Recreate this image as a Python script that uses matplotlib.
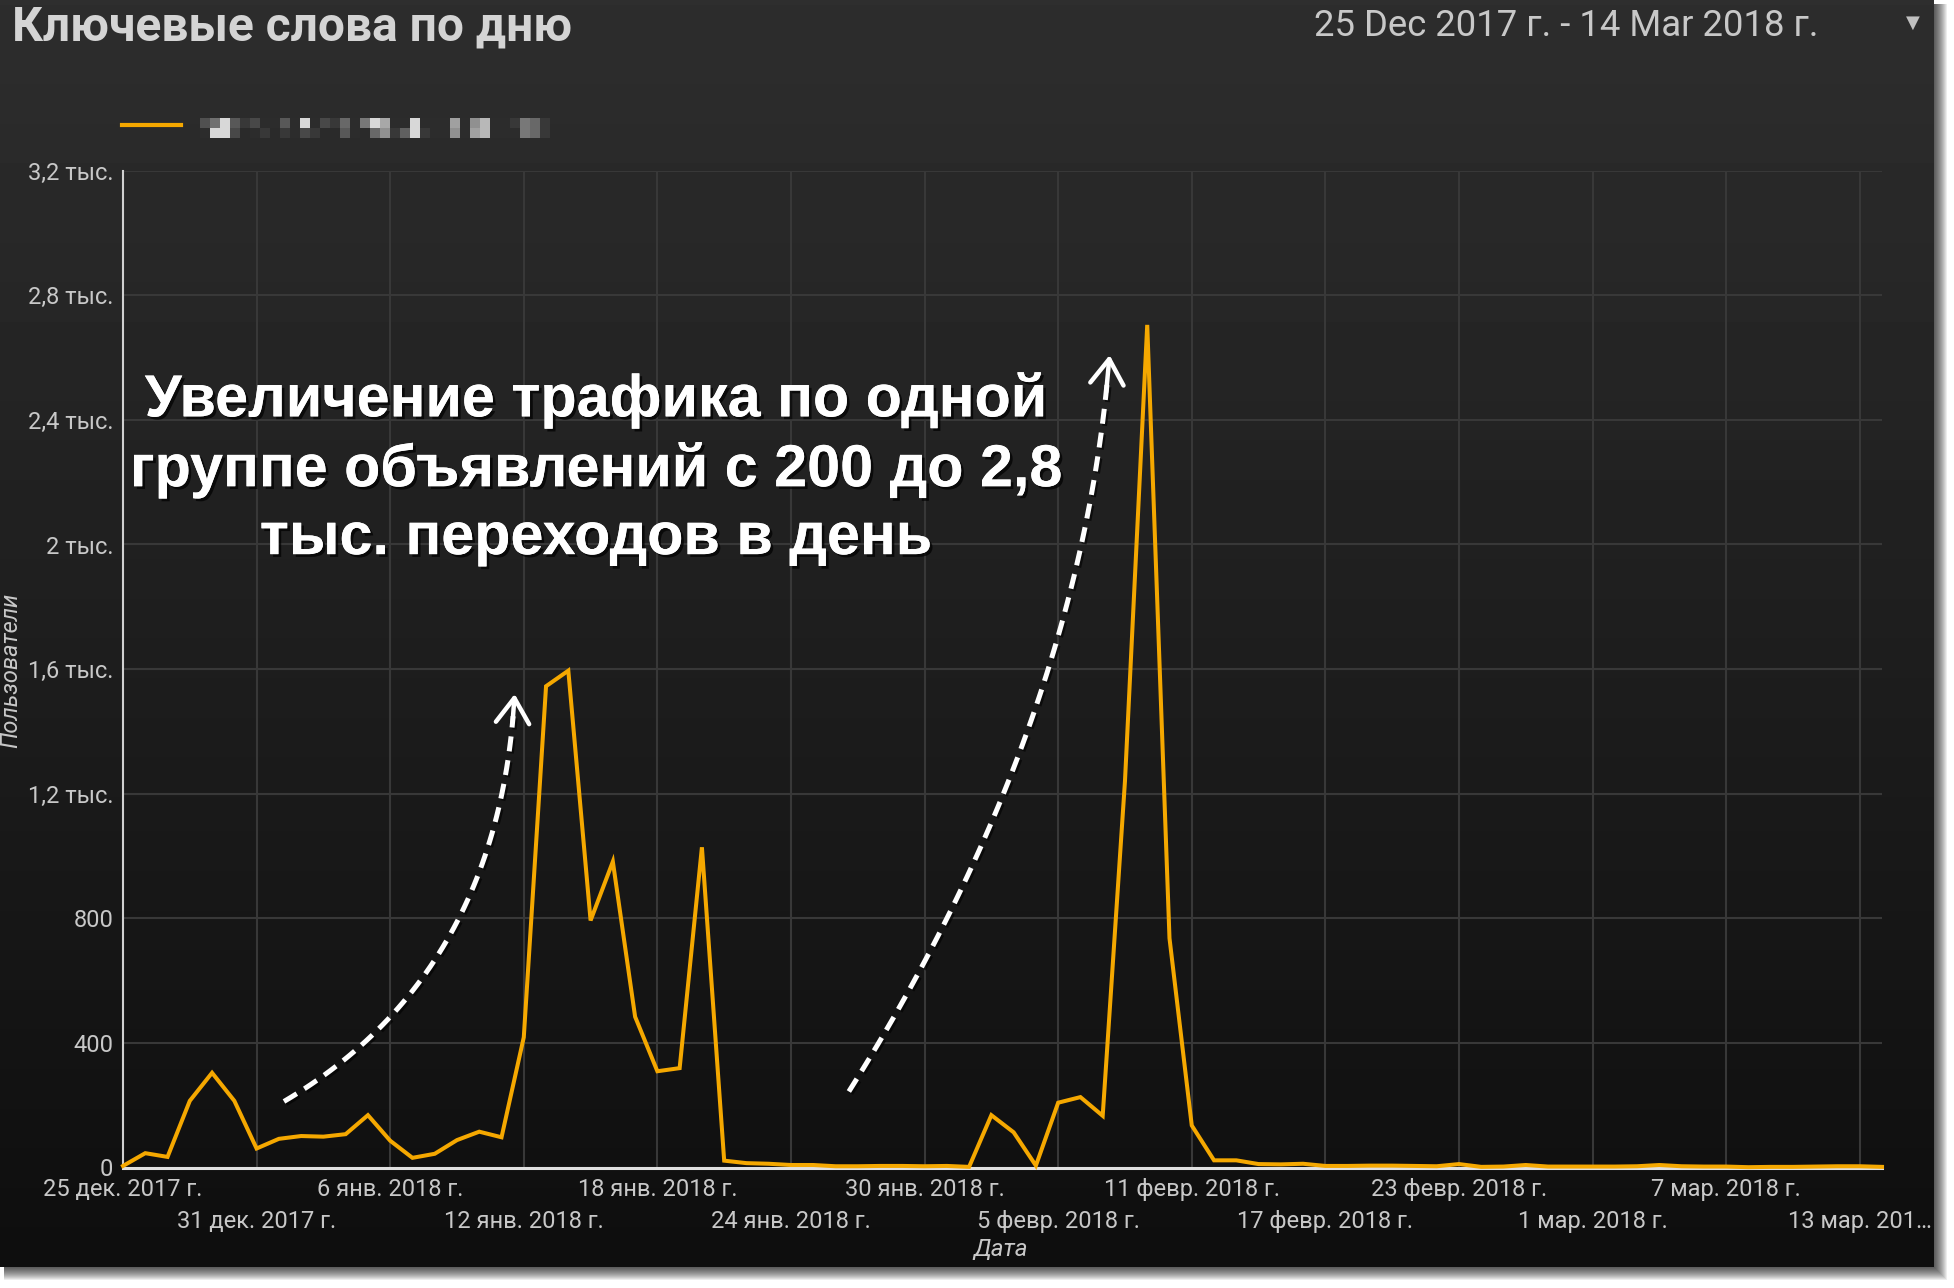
import matplotlib.pyplot as plt
import matplotlib.patheffects as pe
from matplotlib.lines import Line2D
from matplotlib.patches import Rectangle
import numpy as np
import pandas as pd

# daily users, 25 Dec 2017 .. 14 Mar 2018
start_date = '2017-12-25'
users = [5, 46, 34, 214, 304, 214, 61, 92, 101, 99,
         107, 168, 86, 31, 44, 88, 115, 97, 418, 1545,
         1595, 793, 982, 484, 309, 319, 1028, 22, 14, 12,
         8, 8, 4, 4, 5, 5, 4, 5, 2, 168,
         113, 6, 208, 226, 166, 1240, 2705, 736, 135, 23,
         23, 11, 10, 12, 5, 5, 6, 6, 5, 4,
         11, 2, 3, 8, 3, 3, 3, 3, 4, 8,
         4, 3, 3, 1, 2, 2, 3, 4, 4, 2]

row1_dates = ['2017-12-25', '2018-01-06', '2018-01-18', '2018-01-30',
              '2018-02-11', '2018-02-23', '2018-03-07']
row1_labels = ['25 дек. 2017 г.', '6 янв. 2018 г.', '18 янв. 2018 г.', '30 янв. 2018 г.',
               '11 февр. 2018 г.', '23 февр. 2018 г.', '7 мар. 2018 г.']
row2_dates = ['2017-12-31', '2018-01-12', '2018-01-24', '2018-02-05',
              '2018-02-17', '2018-03-01', '2018-03-13']
row2_labels = ['31 дек. 2017 г.', '12 янв. 2018 г.', '24 янв. 2018 г.', '5 февр. 2018 г.',
               '17 февр. 2018 г.', '1 мар. 2018 г.', '13 мар. 201…']

y_ticks = [0, 400, 800, 1200, 1600, 2000, 2400, 2800, 3200]
y_labels = ['0', '400', '800', '1,2 тыс.', '1,6 тыс.', '2 тыс.', '2,4 тыс.', '2,8 тыс.', '3,2 тыс.']

# pixelated (censored) legend label, gray levels
legend_top = [80, 112, 216, 88, 56, 72, 44, 44, 88, 44, 216, 44, 72, 56, 104, 44, 120, 216,
              168, 44, 44, 216, 44, 44, 44, 160, 44, 144, 184, 44, 44, 56, 120, 104, 56]
legend_bot = [44, 216, 216, 72, 42, 44, 56, 42, 56, 44, 72, 56, 42, 42, 88, 44, 42, 104,
              144, 56, 96, 216, 56, 44, 44, 144, 44, 160, 184, 44, 44, 44, 120, 104, 56]

W, H = 1954, 1288
plt.rcParams['font.family'] = ['Roboto', 'DejaVu Sans']

fig = plt.figure(figsize=(W / 100, H / 100), dpi=100)
fig.patch.set_facecolor('white')


def fx(px):
    return px / W


def fy(py):
    return 1 - py / H


# drop shadow of the panel
for r in range(1, 15):
    fig.add_artist(Rectangle((fx(4), fy(1267 + 14 - r)), fx(1934 + 14 - r - 4), (1267 + 14 - r - 4) / H,
                             transform=fig.transFigure, color='black', alpha=0.07, lw=0, zorder=-30))

# dark gradient panel
bg = fig.add_axes([0, fy(1267), fx(1934), 1267 / H], zorder=-20)
grad = np.linspace(0.18, 0.055, 256)[:, None]
bg.imshow(grad, aspect='auto', cmap='gray', vmin=0, vmax=1, extent=[0, 1, 0, 1], origin='upper')
bg.set_axis_off()

days = np.arange(len(users))
t0 = pd.Timestamp(start_date)
row1_pos = [(pd.Timestamp(d) - t0).days for d in row1_dates]
row2_pos = [(pd.Timestamp(d) - t0).days for d in row2_dates]

ax = fig.add_axes([fx(123), fy(1167.5), fx(1882 - 123), (1167.5 - 170.7) / H])
ax.patch.set_alpha(0)
ax.plot(days, users, color='#f5a800', lw=2.9, zorder=5, clip_on=False, solid_joinstyle='miter')
ax.set_xlim(0, len(users) - 1)
ax.set_ylim(0, 3200)

ax.set_yticks(y_ticks)
ax.set_yticklabels(y_labels)
ax.set_xticks(row1_pos)
ax.set_xticklabels(row1_labels)
ax.set_xticks(row2_pos, minor=True)
ax.set_xticklabels(row2_labels, minor=True)
ax.tick_params(axis='both', which='both', length=0, colors='#c8c8c8', labelsize=17)
ax.tick_params(axis='x', which='major', pad=7.5)
ax.tick_params(axis='x', which='minor', pad=30.5)
ax.tick_params(axis='y', pad=7)
ax.grid(True, which='both', color='#383838', lw=1.5)
ax.set_axisbelow(True)
for s in ['top', 'right']:
    ax.spines[s].set_visible(False)
ax.spines['left'].set_color('#d0d0d0')
ax.spines['left'].set_linewidth(1.5)
ax.spines['bottom'].set_color('#e0e0e0')
ax.spines['bottom'].set_linewidth(2.2)

fig.text(fx(11), fy(670), 'Пользователи', rotation=90, ha='center', va='center',
         style='italic', fontsize=17, color='#c8c8c8')
fig.text(fx(1001), fy(1250), 'Дата', ha='center', va='center',
         style='italic', fontsize=17.5, color='#c8c8c8')

# header
fig.text(fx(12), fy(41), 'Ключевые слова по дню', ha='left', va='baseline',
         fontsize=34.5, fontweight='bold', color='#d4d4d4')
fig.text(fx(1818), fy(36), '25 Dec 2017 г. - 14 Mar 2018 г.', ha='right', va='baseline',
         fontsize=26.3, color='#c8c8c8')
fig.text(fx(1913), fy(23), '▼', ha='center', va='center', fontsize=13, color='#c0c0c0',
         family='DejaVu Sans')

# legend
fig.add_artist(Line2D([fx(122), fx(181)], [fy(125), fy(125)], color='#f5a800', lw=3))
lg = fig.add_axes([fx(200), fy(138), fx(350), 20 / H])
lg.imshow(np.array([legend_top, legend_bot]), cmap='gray', vmin=0, vmax=255,
          aspect='auto', interpolation='nearest')
lg.set_axis_off()

# annotation
shadow = [pe.withSimplePatchShadow(offset=(2, -2), shadow_rgbFace='black', alpha=0.7), pe.Normal()]
fig.text(fx(596), fy(469), 'Увеличение трафика по одной\nгруппе объявлений с 200 до 2,8\nтыс. переходов в день',
         ha='center', va='center', multialignment='center', fontsize=42.7, fontweight='bold',
         color='white', family='Liberation Sans', linespacing=1.3, path_effects=shadow)


def dashed_arrow(p0, p1, p2):
    t = np.linspace(0, 0.96, 60)[:, None]
    p0, p1, p2 = map(np.array, (p0, p1, p2))
    curve = (1 - t) ** 2 * p0 + 2 * (1 - t) * t * p1 + t ** 2 * p2
    ax.plot(curve[:, 0], curve[:, 1], color='white', lw=3.6, dashes=(3, 1.8), zorder=6,
            path_effects=[pe.SimpleLineShadow(offset=(1.5, -1.5), shadow_color='black', alpha=0.6),
                          pe.Normal()])
    tail = (1 - 0.95) ** 2 * p0 + 2 * 0.05 * 0.95 * p1 + 0.95 ** 2 * p2
    ax.annotate('', xy=p2, xytext=tail,
                arrowprops=dict(arrowstyle='->,head_length=0.6,head_width=0.4', color='white',
                                lw=3.2, mutation_scale=30, shrinkA=0, shrinkB=0), zorder=6)


dashed_arrow((7.23, 212), (16.9, 620), (17.59, 1520))
dashed_arrow((32.6, 244), (43.0, 1420), (44.31, 2608))

fig.savefig('out.png', dpi=100, facecolor=fig.get_facecolor())
